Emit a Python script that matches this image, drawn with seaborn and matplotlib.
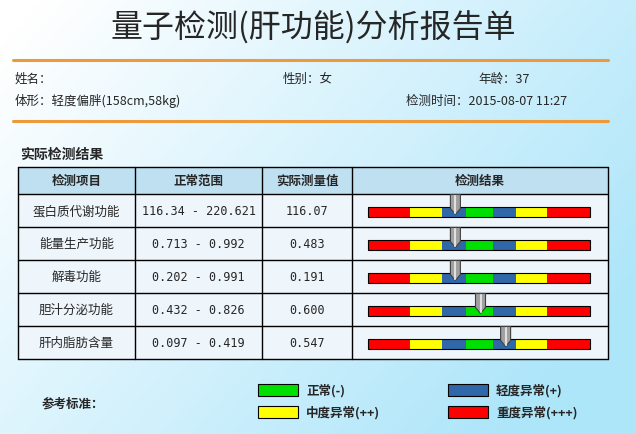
import numpy as np
import matplotlib
matplotlib.use("Agg")
import matplotlib.pyplot as plt
from matplotlib.patches import Rectangle, Polygon
import seaborn as sns

sns.set_theme(style="white", font="Noto Sans CJK SC")

# data
items = ["蛋白质代谢功能", "能量生产功能", "解毒功能", "胆汁分泌功能", "肝内脂肪含量"]
ranges = ["116.34 - 220.621", "0.713 - 0.992", "0.202 - 0.991", "0.432 - 0.826", "0.097 - 0.419"]
measured = ["116.07", "0.483", "0.191", "0.600", "0.547"]
# gauge segments (relative widths) and pointer position on the same scale
seg_widths = [42, 32, 24, 26, 23, 31, 43]
seg_colors = ["#ff0000", "#ffff00", "#2f67a8", "#00e000", "#2f67a8", "#ffff00", "#ff0000"]
pointer_pos = [87, 87, 87, 112, 137]
headers = ["检测项目", "正常范围", "实际测量值", "检测结果"]
legend_labels = ["正常(-)", "轻度异常(+)", "中度异常(++)", "重度异常(+++)"]
legend_colors = ["#00e000", "#2f67a8", "#ffff00", "#ff0000"]

W, H = 636, 435
fig = plt.figure(figsize=(6.36, 4.35), dpi=100)
ax = fig.add_axes([0, 0, 1, 1])
ax.set_xlim(0, W)
ax.set_ylim(H, 0)
ax.axis("off")

# background gradient
gx = np.linspace(0, 1, 200)
gy = np.linspace(0, 1, 150)
G = np.clip(0.75 * gx[None, :] + 0.45 * gy[:, None] - 0.05, 0, 1)
c0 = np.array([1.0, 1.0, 1.0])
c1 = np.array([0.68, 0.90, 0.98])
img = c0[None, None, :] * (1 - G[..., None]) + c1[None, None, :] * G[..., None]
ax.imshow(img, extent=[0, W, H, 0], aspect="auto", zorder=0)

ax.text(313, 28, "量子检测(肝功能)分析报告单", ha="center", va="center", fontsize=23)
for yl in (61, 122):
    ax.plot([13, 608], [yl, yl], color="#ee9a3a", lw=2.2)

f = 9
ax.text(15, 79, "姓名：", va="center", fontsize=f)
ax.text(283, 79, "性别：女", va="center", fontsize=f)
ax.text(478, 79, "年龄：37", va="center", fontsize=f)
ax.text(15, 101, "体形：轻度偏胖(158cm,58kg)", va="center", fontsize=f)
ax.text(406, 101, "检测时间：2015-08-07 11:27", va="center", fontsize=f)
ax.text(20, 155, "实际检测结果", va="center", fontsize=10, fontweight="bold")

# table
cols = [18, 135, 262, 352, 608]
top, hh, rh = 168, 27, 33
ax.add_patch(Rectangle((cols[0], top), cols[-1] - cols[0], hh, fc="#bfe0f0", ec="none", zorder=1))
ax.add_patch(Rectangle((cols[0], top + hh), cols[-1] - cols[0], rh * len(items), fc="#eef5fb", ec="none", zorder=1))
for i, h in enumerate(headers):
    ax.text((cols[i] + cols[i + 1]) / 2, top + hh / 2, h, ha="center", va="center",
            fontsize=9, fontweight="bold", zorder=3)
ys = [top, top + hh] + [top + hh + rh * (k + 1) for k in range(len(items))]
for y in ys:
    ax.plot([cols[0], cols[-1]], [y, y], color="black", lw=1, zorder=2)
for x in cols:
    ax.plot([x, x], [top, ys[-1]], color="black", lw=1, zorder=2)

edges = np.concatenate([[0], np.cumsum(seg_widths)])
gx0, gx1 = 368, 590
scale = (gx1 - gx0) / edges[-1]
for r in range(len(items)):
    cy = top + hh + rh * r + rh / 2
    ax.text((cols[0] + cols[1]) / 2, cy, items[r], ha="center", va="center", fontsize=9, zorder=3)
    ax.text((cols[1] + cols[2]) / 2, cy, ranges[r], ha="center", va="center", fontsize=8.5,
            family="DejaVu Sans Mono", zorder=3)
    ax.text((cols[2] + cols[3]) / 2, cy, measured[r], ha="center", va="center", fontsize=8.5,
            family="DejaVu Sans Mono", zorder=3)
    by = cy + 1
    ax.barh([by], [w * scale for w in seg_widths], left=gx0 + edges[:-1] * scale, height=10,
            color=seg_colors, edgecolor="none", zorder=3)
    ax.add_patch(Rectangle((gx0, by - 5), gx1 - gx0, 10, fc="none", ec="black", lw=0.8, zorder=4))
    px = gx0 + pointer_pos[r] * scale
    ax.add_patch(Polygon([(px - 5, by - 17), (px + 5, by - 17), (px + 5, by - 3), (px, by + 3), (px - 5, by - 3)],
                         closed=True, fc="#a0a0a0", ec="#404040", lw=0.8, zorder=5))
    ax.plot([px, px], [by - 16, by + 1], color="#e0e0e0", lw=1.5, zorder=6)

# legend
ax.text(42, 404, "参考标准：", va="center", fontsize=9, fontweight="bold")
pos = [(258, 391), (448, 391), (258, 413), (448, 413)]
for (lx, ly), lab, c in zip(pos, legend_labels, legend_colors):
    ax.add_patch(Rectangle((lx, ly - 6), 40, 12, fc=c, ec="black", lw=0.8))
    ax.text(lx + 48, ly, lab, va="center", fontsize=9, fontweight="bold")

fig.savefig("out.png", dpi=100)
